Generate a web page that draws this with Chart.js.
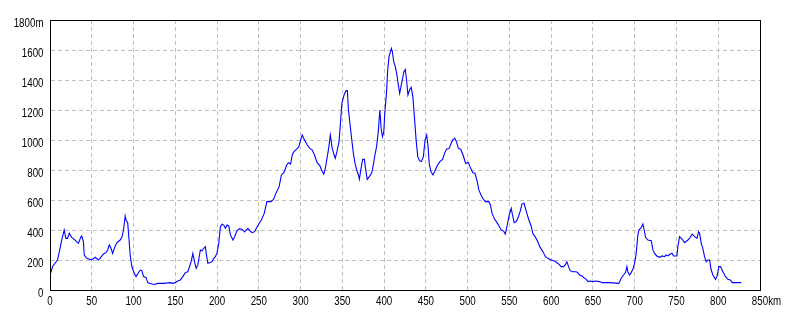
<!DOCTYPE html>
<html>
<head>
<meta charset="utf-8">
<script src="https://cdn.jsdelivr.net/npm/chart.js@4"></script>
<style>
html,body{margin:0;padding:0;background:#fff;}
canvas{display:block;}
</style>
</head>
<body>
<canvas id="c" width="800" height="320"></canvas>
<script>
// Distance along route (km)
const distanceKm = [
0,3,6,9,12,14,16,17,19,21,23,26,30,34,37,38,40,41,44,48,50,54,58,60,64,67,69,71,73,75,77,80,84,86,88,90,91,93,94,96,98,101,103,105,108,110,112,115,117,120,123,126,129,136,144,147,150,153,156,159,162,165,167,169,171,173,175,177,178,180,182,184,186,187,189,191,194,196,198,200,202,204,206,208,210,212,214,216,219,221,224,227,230,233,235,237,239,242,245,247,250,253,
256.5,259.7,264.4,267.6,270.4,274.3,277,280,283.4,285.4,288,290,292,295,298,300,302,304.7,308,311,314,316.6,319.8,323,325,327.7,329.6,331.6,333.6,335.6,337.5,339.5,341.5,343.5,346,347.4,349.4,352,354.5,356,357.3,359.3,361.3,363.2,365.2,367.2,369.2,370.4,372,374.3,376.3,378.3,379.8,382.2,385,387,389,391,393,394.9,396.4,398,399.6,400.8,402.8,404.3,405.9,407.5,408.7,409.9,411.5,413.4,415.4,417,418.6,419.8,421.7,423.7,425.3,426.9,428.5,430.4,432.4,434.4,436.4,438.3,440.3,442.3,444.7,447,449,451,452.6,454,456,458.5,461.3,464,466.8,470,472.3,474.7,477.9,480.2,482.6,484.6,486.6,488.9,491.7,494.5,497.6,500.8,503.6,506.3,508.7,511.5,513.4,516.6,519.4,521.3,525.3,527.3,529.2,532.4,535.2,538,540.3,543.1,545,547.4,549.8,552.2,553.7,555.7,558.1,560.1,562.8,
565,567.5,570.9,573.3,576,578,581.2,584,586.8,590,593.2,596,600,604,606.8,609.2,612,614.8,616.8,618.8,620.8,622.8,626,630,632,634,637,640,642,644,646.7,650,653,658,661,670,681,683.8,686.6,689,690.6,691.8,693.8,695.8,697.8,699.8,701.8,703.8,705,707.8,709.8,711.4,713,715.8,719.8,721.8,723.8,726.5,729.7,732.9,735.7,737.7,739.7,742.5,744.9,746.5,750.5,751.7,753.7,756.9,759.7,763.7,766.5,768.9,771.7,774.5,776.5,777.7,779.6,781.6,783.6,785.6,787.6,789.6,791.6,793.6,796.8,798.4,800.8,802.8,805.6,808.8,811.6,814.4,816.8,827.6
];
// Elevation (m)
const elevationM = [
100,155,178,200,278,333,378,400,344,344,378,351,333,311,355,360,322,233,211,204,200,218,200,211,240,249,267,300,278,244,278,315,333,351,400,493,467,449,378,233,155,111,89,107,133,129,89,84,49,44,38,38,44,44,49,44,49,60,67,89,116,122,155,189,244,189,144,167,200,267,262,278,289,244,178,182,189,211,222,249,311,422,438,433,411,433,427,367,333,355,396,409,404,387,400,411,396,382,389,411,440,467,
511,589,589,604,644,689,767,782,833,849,840,900,922,938,956,1000,1033,1000,967,944,933,900,849,829,800,773,811,878,944,1033,956,911,878,922,989,1089,1244,1300,1329,1329,1200,1100,1000,911,844,800,767,738,800,871,871,789,738,756,778,833,900,956,1056,1200,1078,1022,1056,1178,1311,1467,1556,1589,1611,1589,1522,1489,1433,1367,1311,1344,1400,1456,1471,1400,1300,1333,1351,1289,1144,1000,889,862,856,889,1000,1033,956,844,789,767,800,833,856,871,911,938,944,978,1004,1011,989,944,938,900,844,851,811,782,778,722,667,627,600,589,589,567,511,471,449,422,400,393,373,433,500,544,500,449,456,478,522,
573,578,511,467,427,378,351,322,284,256,222,211,200,193,182,173,156,156,167,189,156,129,122,122,116,100,93,78,71,56,60,56,60,56,49,49,44,78,100,116,156,122,100,116,138,178,244,367,400,416,440,400,351,333,329,267,244,227,218,227,222,233,227,240,244,227,227,289,356,338,316,333,351,373,356,344,389,378,311,278,222,189,200,200,133,100,71,89,156,156,122,89,71,67,49,49
];
// Axis ticks
const xTickValues = [0,50,100,150,200,250,300,350,400,450,500,550,600,650,700,750,800,850];
const yTickValues = [0,200,400,600,800,1000,1200,1400,1600,1800];
const xUnit = 'km';
const yUnit = 'm';

const FONT = '13px "Liberation Sans", Arial, sans-serif';
const SQUEEZE = 0.75;

const points = distanceKm.map((d, i) => ({x: d, y: elevationM[i]}));

function narrowText(ctx, text, x, y, align) {
  ctx.save();
  ctx.translate(x, y);
  ctx.scale(SQUEEZE, 1);
  ctx.textAlign = align;
  ctx.fillText(text, 0, 0);
  ctx.restore();
}

const framePlugin = {
  id: 'frame',
  afterDraw(chart) {
    const {ctx, chartArea: a} = chart;
    ctx.save();
    ctx.strokeStyle = '#000';
    ctx.lineWidth = 1;
    ctx.setLineDash([]);
    ctx.strokeRect(Math.round(a.left) + 0.5, Math.round(a.top) + 0.5,
                   Math.round(a.right - a.left), Math.round(a.bottom - a.top));
    ctx.fillStyle = '#000';
    ctx.font = FONT;
    ctx.textBaseline = 'middle';
    // y tick labels
    const ys = chart.scales.y;
    yTickValues.forEach(v => {
      const py = ys.getPixelForValue(v);
      const t = v === yTickValues[yTickValues.length - 1] ? v + yUnit : String(v);
      narrowText(ctx, t, a.left - 6.5, py + 3, 'right');
    });
    // x tick labels
    const xs = chart.scales.x;
    xTickValues.forEach(v => {
      const px = xs.getPixelForValue(v);
      narrowText(ctx, String(v), px, a.bottom + 11.5, 'center');
      if (v === xTickValues[xTickValues.length - 1]) {
        const w = ctx.measureText(String(v)).width * SQUEEZE;
        narrowText(ctx, xUnit, px + w / 2, a.bottom + 11.5, 'left');
      }
    });
    ctx.restore();
  }
};

new Chart(document.getElementById('c'), {
  type: 'line',
  data: {
    datasets: [{
      data: points,
      borderColor: '#0000ff',
      borderWidth: 1.1,
      pointRadius: 0,
      fill: false,
      tension: 0
    }]
  },
  options: {
    responsive: false,
    animation: false,
    events: [],
    layout: {padding: {top: 20, right: 40, left: 0, bottom: 0}},
    plugins: {legend: {display: false}, tooltip: {enabled: false}},
    scales: {
      x: {
        type: 'linear',
        min: 0, max: 850,
        afterBuildTicks: (s) => { s.ticks = xTickValues.map(v => ({value: v})); },
        afterFit: (s) => { s.height = 30; },
        ticks: {display: false, autoSkip: false},
        grid: {color: '#c0c0c0', drawTicks: false, lineWidth: 1},
        border: {display: true, color: '#000', dash: [4, 3]}
      },
      y: {
        min: 0, max: 1800,
        afterBuildTicks: (s) => { s.ticks = yTickValues.map(v => ({value: v})); },
        afterFit: (s) => { s.width = 50; },
        ticks: {display: false, autoSkip: false},
        grid: {color: '#c0c0c0', drawTicks: false, lineWidth: 1},
        border: {display: true, color: '#000', dash: [4, 3]}
      }
    }
  },
  plugins: [framePlugin]
});
</script>
</body>
</html>
